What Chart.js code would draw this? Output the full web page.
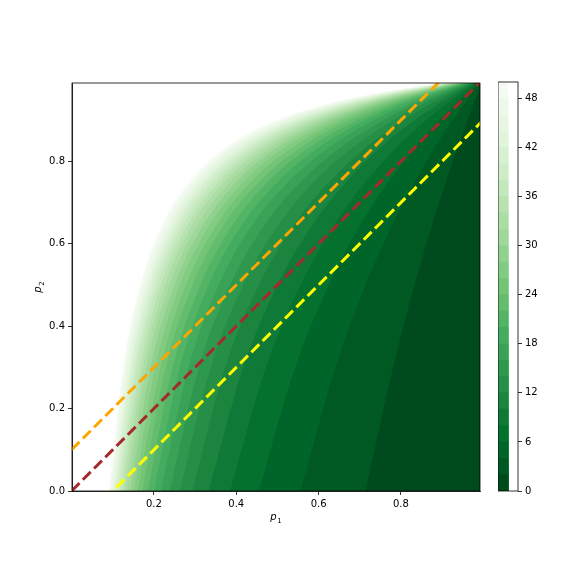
<!DOCTYPE html>
<html><head><meta charset="utf-8">
<script src="https://cdn.jsdelivr.net/npm/chart.js@4.4.1/dist/chart.umd.min.js"></script>
<style>
html,body{margin:0;padding:0;background:#fff;}
#wrap{position:relative;width:576px;height:576px;background:#fff;}
#main{position:absolute;left:0;top:0;}
#cbar{position:absolute;left:498px;top:0;}
</style></head><body>
<div id="wrap"><canvas id="main" width="576" height="576"></canvas><canvas id="cbar" width="78" height="576"></canvas></div>
<script>
// ---- data ----
// p2 rows at which each contour level's p1 crossing was read
const p2Rows = [0, 0.30, 0.50, 0.65, 0.75, 0.83, 0.89, 0.93, 0.96, 0.98, 0.99];
// contour levels (upper edge of each filled band)
const levels = [2,4,6,8,10,12,14,16,18,20,22,24,26,28,30,32,34,36,38,40,42,44,46,48,50];
// p1 position of each contour level at each p2 row
const contourP1 = [
 [0.714,0.781,0.833,0.877,0.909,0.936,0.958,0.973,0.984,0.992,0.996],
 [0.556,0.641,0.714,0.781,0.833,0.880,0.919,0.947,0.969,0.984,0.992],
 [0.455,0.543,0.625,0.704,0.769,0.831,0.883,0.923,0.954,0.977,0.988],
 [0.385,0.472,0.556,0.641,0.714,0.786,0.850,0.899,0.940,0.969,0.984],
 [0.333,0.417,0.500,0.588,0.667,0.746,0.820,0.877,0.926,0.962,0.980],
 [0.294,0.373,0.455,0.543,0.625,0.710,0.791,0.856,0.912,0.954,0.977],
 [0.263,0.338,0.417,0.505,0.588,0.678,0.765,0.836,0.899,0.947,0.973],
 [0.238,0.309,0.385,0.472,0.556,0.648,0.740,0.817,0.887,0.940,0.969],
 [0.217,0.284,0.357,0.442,0.526,0.620,0.716,0.799,0.874,0.933,0.965],
 [0.200,0.263,0.333,0.417,0.500,0.595,0.694,0.781,0.862,0.926,0.962],
 [0.185,0.245,0.313,0.394,0.476,0.572,0.674,0.765,0.850,0.919,0.958],
 [0.172,0.229,0.294,0.373,0.455,0.551,0.654,0.749,0.839,0.912,0.954],
 [0.161,0.216,0.278,0.355,0.435,0.531,0.636,0.733,0.828,0.906,0.951],
 [0.152,0.203,0.263,0.338,0.417,0.512,0.619,0.718,0.817,0.899,0.947],
 [0.143,0.192,0.250,0.323,0.400,0.495,0.602,0.704,0.806,0.893,0.943],
 [0.135,0.182,0.238,0.309,0.385,0.479,0.587,0.691,0.796,0.887,0.940],
 [0.128,0.174,0.227,0.296,0.370,0.464,0.572,0.678,0.786,0.880,0.936],
 [0.122,0.166,0.217,0.284,0.357,0.450,0.558,0.665,0.776,0.874,0.933],
 [0.116,0.158,0.208,0.273,0.345,0.436,0.545,0.653,0.767,0.868,0.929],
 [0.111,0.152,0.200,0.263,0.333,0.424,0.532,0.641,0.758,0.862,0.926],
 [0.106,0.145,0.192,0.254,0.323,0.412,0.520,0.630,0.749,0.856,0.923],
 [0.102,0.140,0.185,0.245,0.313,0.401,0.508,0.619,0.740,0.850,0.919],
 [0.098,0.134,0.179,0.237,0.303,0.390,0.497,0.608,0.731,0.845,0.916],
 [0.094,0.130,0.172,0.229,0.294,0.380,0.486,0.598,0.723,0.839,0.912],
 [0.091,0.125,0.167,0.222,0.286,0.370,0.476,0.588,0.714,0.833,0.909]
];
// dashed reference lines p2 = p1 + offset (endpoints)
const dashP1 = [0, 1];
const orangeP2 = [0.1, 1.1];
const brownP2 = [0, 1];
const yellowP2 = [-0.1, 0.9];
// axes
const xRange = [0.001, 0.992];
const yRange = [0, 0.99];
const xTicks = [0.2, 0.4, 0.6, 0.8];
const yTicks = [0, 0.2, 0.4, 0.6, 0.8];
const cbarRange = [0, 50];
const cbarTicks = [0, 6, 12, 18, 24, 30, 36, 42, 48];
const xLabelSub = '1', yLabelSub = '2';

// ---- style helpers ----
const GREENS = [[247,252,245],[229,245,224],[199,233,192],[161,217,155],[116,196,118],[65,171,93],[35,139,69],[0,109,44],[0,68,27]];
function greens(t){
  t = Math.min(1, Math.max(0, t));
  const s = t * 8, i = Math.min(7, Math.floor(s)), f = s - i;
  const a = GREENS[i], b = GREENS[i+1];
  return 'rgb(' + [0,1,2].map(k => Math.round(a[k] + (b[k]-a[k])*f)).join(',') + ')';
}
// Greens_r over [0,50], colour of band ending at level L (midpoint L-1)
function bandColor(L, step){ return greens(1 - (L - step/2) / cbarRange[1]); }

const FONT = '"DejaVu Sans", "Liberation Sans", sans-serif';

function drawMathLabel(ctx, x, y, sub, rot){
  ctx.save();
  ctx.translate(x, y);
  if (rot) ctx.rotate(-Math.PI/2);
  ctx.fillStyle = '#000';
  ctx.textBaseline = 'alphabetic';
  ctx.textAlign = 'left';
  const f1 = 'italic 10px ' + FONT, f2 = '7px ' + FONT;
  ctx.font = f1; const w1 = ctx.measureText('p').width;
  ctx.font = f2; const w2 = ctx.measureText(sub).width;
  const x0 = -(w1 + w2 + 0.5) / 2;
  ctx.font = f1; ctx.fillText('p', x0, 3);
  ctx.font = f2; ctx.fillText(sub, x0 + w1 + 0.5, 5.5);
  ctx.restore();
}

const framePlugin = {
  id: 'frame',
  afterDraw(chart, args, opts){
    const a = chart.chartArea, ctx = chart.ctx;
    ctx.save();
    ctx.strokeStyle = '#000';
    ctx.lineWidth = 0.8;
    ctx.strokeRect(a.left, a.top, a.right - a.left, a.bottom - a.top);
    ctx.restore();
    if (opts && opts.labels) {
      drawMathLabel(ctx, (a.left + a.right)/2, 517, xLabelSub, false);
      drawMathLabel(ctx, 38, (a.top + a.bottom)/2, yLabelSub, true);
    }
  }
};

// ---- main chart ----
const datasets = [];
const lineStyle = (color) => ({
  borderColor: color, borderWidth: 3, borderDash: [11.1, 4.8], borderCapStyle: 'butt',
  pointRadius: 0, fill: false, tension: 0, clip: 0
});
datasets.push(Object.assign({ data: dashP1.map((x,i) => ({x, y: orangeP2[i]})) }, lineStyle('#ffa500')));
datasets.push(Object.assign({ data: dashP1.map((x,i) => ({x, y: brownP2[i]})) }, lineStyle('#a52a2a')));
datasets.push(Object.assign({ data: dashP1.map((x,i) => ({x, y: yellowP2[i]})) }, lineStyle('#ffff00')));

const step = levels[1] - levels[0];
levels.forEach((L, i) => {
  const pts = p2Rows.map((y, j) => ({ x: contourP1[i][j], y }));
  pts.push({ x: dashP1[1], y: p2Rows[p2Rows.length-1] });
  datasets.push({
    data: pts,
    backgroundColor: bandColor(L, step),
    borderColor: 'rgba(0,0,0,0)',
    borderWidth: 0,
    pointRadius: 0,
    fill: 'start',
    cubicInterpolationMode: 'monotone',
    clip: 0
  });
});

const tickFont = { family: FONT, size: 10 };

new Chart(document.getElementById('main'), {
  type: 'line',
  data: { datasets },
  options: {
    responsive: false,
    animation: false,
    events: [],
    layout: { padding: { left: 0, top: 83, right: 96, bottom: 0 } },
    plugins: { legend: { display: false }, tooltip: { enabled: false }, frame: { labels: true } },
    scales: {
      x: {
        type: 'linear', min: xRange[0], max: xRange[1],
        afterFit: s => { s.height = 85; },
        afterBuildTicks: s => { s.ticks = xTicks.map(v => ({ value: v })); },
        ticks: { callback: v => Number(v).toFixed(1), font: tickFont, color: '#000', padding: 3, maxRotation: 0 },
        grid: { display: true, drawOnChartArea: false, drawTicks: true, tickLength: 4, color: '#000', lineWidth: 0.8 },
        border: { display: true, color: '#000', width: 0.8 }
      },
      y: {
        type: 'linear', min: yRange[0], max: yRange[1],
        afterFit: s => { s.width = 72; },
        afterBuildTicks: s => { s.ticks = yTicks.map(v => ({ value: v })); },
        ticks: { callback: v => Number(v).toFixed(1), font: tickFont, color: '#000', padding: 3 },
        grid: { display: true, drawOnChartArea: false, drawTicks: true, tickLength: 4, color: '#000', lineWidth: 0.8 },
        border: { display: true, color: '#000', width: 0.8 }
      }
    }
  },
  plugins: [framePlugin]
});

// ---- colorbar ----
const cbDatasets = levels.map(L => ({
  data: [L],
  backgroundColor: bandColor(L, step),
  borderWidth: 0,
  grouped: false,
  categoryPercentage: 1,
  barPercentage: 1
}));

new Chart(document.getElementById('cbar'), {
  type: 'bar',
  data: { labels: [''], datasets: cbDatasets },
  options: {
    responsive: false,
    animation: false,
    events: [],
    layout: { padding: { left: 0, top: 82, right: 0, bottom: 85 } },
    plugins: { legend: { display: false }, tooltip: { enabled: false }, frame: { labels: false } },
    scales: {
      x: { display: false, offset: false },
      y: {
        position: 'right', min: cbarRange[0], max: cbarRange[1],
        afterFit: s => { s.width = 58; },
        afterBuildTicks: s => { s.ticks = cbarTicks.map(v => ({ value: v })); },
        ticks: { font: tickFont, color: '#000', padding: 3 },
        grid: { display: true, drawOnChartArea: false, drawTicks: true, tickLength: 4, color: '#000', lineWidth: 0.8 },
        border: { display: false }
      }
    }
  },
  plugins: [framePlugin]
});
</script>
</body></html>
